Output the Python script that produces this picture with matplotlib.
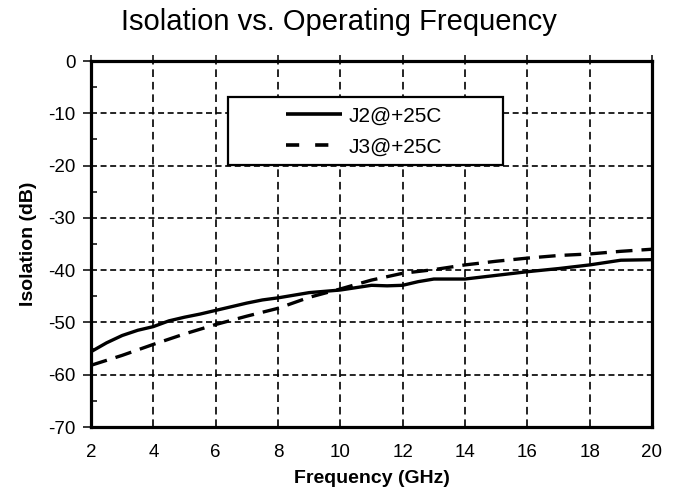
import matplotlib
matplotlib.use("Agg")
import matplotlib.pyplot as plt
from matplotlib.patches import Rectangle
from matplotlib.lines import Line2D
from matplotlib.ticker import MultipleLocator

plt.rcParams['font.family'] = ['Liberation Sans', 'DejaVu Sans']
plt.rcParams['lines.scale_dashes'] = False

title = "Isolation vs. Operating Frequency"
xlabel = "Frequency (GHz)"
ylabel = "Isolation (dB)"
xticks = [2, 4, 6, 8, 10, 12, 14, 16, 18, 20]
yticks = [0, -10, -20, -30, -40, -50, -60, -70]

j2_freq = [2, 2.5, 3, 3.5, 4, 4.5, 5, 5.5, 6, 6.5, 7, 7.5, 8, 9, 10, 11, 11.5, 12,
           12.5, 13, 14, 15, 16, 17, 18, 19, 20]
j2_iso = [-55.6, -53.9, -52.5, -51.5, -50.8, -49.7, -49.0, -48.4, -47.7, -47.0,
          -46.3, -45.7, -45.3, -44.3, -43.8, -42.9, -43.0, -42.9, -42.2, -41.7,
          -41.7, -41.0, -40.3, -39.7, -39.0, -38.1, -38.0]

j3_freq = [2, 3, 4, 5, 6, 7, 8, 9, 10, 11, 12, 13, 14, 15, 16, 17, 18, 19, 20]
j3_iso = [-58.2, -56.3, -54.2, -52.2, -50.4, -48.8, -47.3, -45.2, -43.6, -41.9,
          -40.6, -39.9, -39.0, -38.3, -37.7, -37.2, -36.9, -36.4, -36.0]

labels = ["J2@+25C", "J3@+25C"]

fig = plt.figure(figsize=(6.78, 4.92), dpi=100)
ax = fig.add_axes([91/678, 1-427/492, (652-91)/678, (427-61)/492])

l1, = ax.plot(j2_freq, j2_iso, color='black', lw=2.4, solid_capstyle='butt', zorder=3)
l2, = ax.plot(j3_freq, j3_iso, color='black', lw=2.4, linestyle=(0, (12, 6.5)),
              dash_capstyle='butt', zorder=3)

ax.set_xlim(2, 20)
ax.set_ylim(-70, 0)
ax.set_xticks(xticks)
ax.set_yticks(yticks)
ax.set_xticklabels([str(v) for v in xticks], fontsize=13.5)
ax.set_yticklabels([str(v) for v in yticks], fontsize=13.5)
ax.yaxis.set_minor_locator(MultipleLocator(5))

ax.xaxis.grid(True, which='major', color='black', lw=1.2, linestyle=(0, (5.5, 3.5)))
ax.yaxis.grid(True, which='major', color='black', lw=1.2, linestyle=(0, (4.3, 2.6)))
ax.set_axisbelow(True)

for s in ax.spines.values():
    s.set_linewidth(2.3)
    s.set_color('black')
    s.set_zorder(4)

ax.tick_params(axis='x', which='major', bottom=False, top=True, direction='out',
               length=4.5, width=1.1, pad=8, labelbottom=True, labeltop=False)
ax.tick_params(axis='y', which='major', left=True, right=False, direction='out',
               length=6, width=1.1, pad=5)
ax.tick_params(axis='y', which='minor', left=True, right=False, direction='in',
               length=4, width=1.1)

ax.set_xlabel(xlabel, fontsize=14, fontweight='bold', labelpad=6)
ax.set_ylabel(ylabel, fontsize=14, fontweight='bold', labelpad=8)

fig.text(0.5, 1-22/492, title, fontsize=21, ha='center', va='center')

# legend box
x0 = (227.5-91)/561
x1 = (503-91)/561
yb = 1-(164.5-61)/366
yt = 1-(96.5-61)/366
rect = Rectangle((x0, yb), x1-x0, yt-yb, transform=ax.transAxes, facecolor='white',
                 edgecolor='black', lw=1.6, zorder=5)
ax.add_patch(rect)
h1 = Line2D([], [], color='black', lw=2.6, solid_capstyle='butt')
h2 = Line2D([], [], color='black', lw=2.6, linestyle=(0, (9.5, 11.5)), dash_capstyle='butt')
leg = ax.legend([h1, h2], labels, loc='center',
                bbox_to_anchor=((x0+x1)/2 - 0.002, (yb+yt)/2 - 0.003),
                bbox_transform=ax.transAxes, frameon=False, fontsize=15,
                handlelength=2.7, handletextpad=0.3, labelspacing=0.58,
                borderpad=0.2)
leg.set_zorder(6)

fig.savefig("out.png", dpi=100)
